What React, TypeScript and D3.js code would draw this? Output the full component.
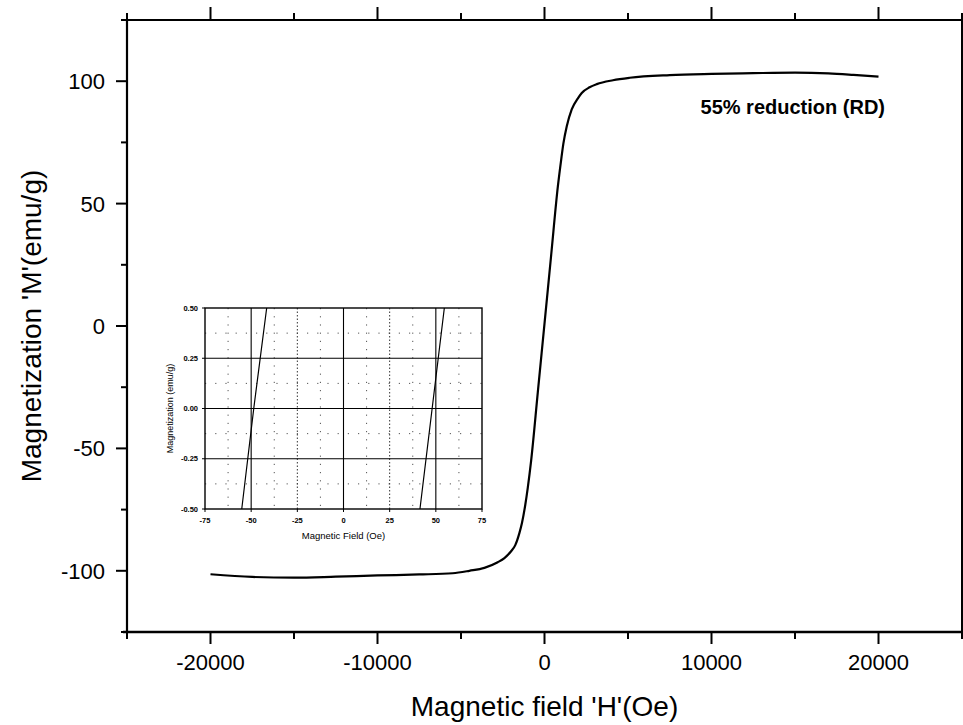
import React from 'react';
import * as d3 from 'd3';

// Main hysteresis curve
const fieldOe = [-20000, -17500, -15000, -12500, -10000, -7500, -5500, -4500, -3600, -2800, -2400, -2000, -1750, -1500, -1350, -1150, -1000, -800, -400, 0, 400, 800, 1000, 1130, 1330, 1630, 2000, 2230, 2700, 3130, 4100, 5100, 7500, 10000, 12500, 15000, 17000, 18500, 20000];
const magnetization = [-101.4, -102.5, -102.8, -102.4, -101.9, -101.5, -101.0, -100.0, -98.8, -96.5, -94.8, -92.0, -89.5, -84.5, -80.5, -73.0, -66.0, -55.0, -27.0, 1.0, 29.0, 57.0, 68.0, 74.5, 81.5, 88.5, 93.0, 95.2, 97.5, 98.8, 100.4, 101.4, 102.5, 103.0, 103.3, 103.5, 103.2, 102.6, 101.9];

const xTickValues = [-20000, -10000, 0, 10000, 20000];
const xMinorTickValues = [-25000, -15000, -5000, 5000, 15000, 25000];
const yTickValues = [-100, -50, 0, 50, 100];
const yMinorTickValues = [-125, -75, -25, 25, 75, 125];

// Inset (low-field zoom)
const insetDescField = [-55.1, -48.6, -41.6];
const insetAscField = [41.4, 48.0, 54.6];
const insetM = [-0.5, 0, 0.5];
const insetXTicks = [-75, -50, -25, 0, 25, 50, 75];
const insetYTicks = [-0.5, -0.25, 0, 0.25, 0.5];
const insetSolidX = [-50, 0, 50];
const insetDashedX = [-25, 25];
const insetDottedX = [-62.5, -37.5, -12.5, 12.5, 37.5, 62.5];
const insetSolidY = [-0.25, 0, 0.25];
const insetDottedY = [-0.375, -0.125, 0.125, 0.375];

const FONT = "'Liberation Sans', Arial, Helvetica, sans-serif";

export default function App() {
  const W = 963, H = 725;
  const left = 127, right = 962, top = 20, bottom = 632;
  const x = d3.scaleLinear().domain([-25000, 25000]).range([left, right]);
  const y = d3.scaleLinear().domain([-125, 125]).range([bottom, top]);

  const mainPts: [number, number][] = fieldOe.map((h, i) => [h, magnetization[i]]);
  const line = d3.line<[number, number]>().x(d => x(d[0])).y(d => y(d[1])).curve(d3.curveMonotoneX);

  // inset
  const iL = 205, iR = 482, iT = 308, iB = 509;
  const ix = d3.scaleLinear().domain([-75, 75]).range([iL, iR]);
  const iy = d3.scaleLinear().domain([-0.5, 0.5]).range([iB, iT]);
  const iline = d3.line<[number, number]>().x(d => ix(d[0])).y(d => iy(d[1]));
  const desc: [number, number][] = insetDescField.map((h, i) => [h, insetM[i]]);
  const asc: [number, number][] = insetAscField.map((h, i) => [h, insetM[i]]);

  return (
    <svg width={W} height={H} style={{ position: 'absolute', left: 0, top: 0, background: '#fff' }} fontFamily={FONT}>
      <rect x={0} y={0} width={W} height={H} fill="#fff" />
      {/* frame */}
      <line x1={left} x2={left} y1={top - 1} y2={bottom + 1} stroke="#000" strokeWidth={2.2} />
      <line x1={right} x2={right} y1={top - 1} y2={bottom + 1} stroke="#000" strokeWidth={2} />
      <line x1={left - 1} x2={right + 1} y1={top} y2={top} stroke="#000" strokeWidth={2.2} />
      <line x1={left - 4} x2={right + 1} y1={bottom} y2={bottom} stroke="#000" strokeWidth={2.6} />

      {/* x ticks bottom and top */}
      {xTickValues.map(v => (
        <g key={'xt' + v}>
          <line x1={x(v)} x2={x(v)} y1={bottom} y2={bottom + 12} stroke="#000" strokeWidth={2} />
          <line x1={x(v)} x2={x(v)} y1={top} y2={top - 13} stroke="#000" strokeWidth={2} />
          <text x={x(v)} y={bottom + 38} textAnchor="middle" fontSize={22}>{String(v)}</text>
        </g>
      ))}
      {xMinorTickValues.map(v => (
        <g key={'xm' + v}>
          <line x1={x(v)} x2={x(v)} y1={bottom} y2={bottom + 7} stroke="#000" strokeWidth={2} />
          <line x1={x(v)} x2={x(v)} y1={top} y2={top - 7} stroke="#000" strokeWidth={2} />
        </g>
      ))}
      {/* y ticks */}
      {yTickValues.map(v => (
        <g key={'yt' + v}>
          <line x1={left} x2={left - 11} y1={y(v)} y2={y(v)} stroke="#000" strokeWidth={2} />
          <text x={left - 22} y={y(v)} dy="0.36em" textAnchor="end" fontSize={22}>{String(v)}</text>
        </g>
      ))}
      {yMinorTickValues.map(v => (
        <line key={'ym' + v} x1={left} x2={left - 6} y1={y(v)} y2={y(v)} stroke="#000" strokeWidth={2} />
      ))}

      {/* titles */}
      <text x={(left + right) / 2} y={716} textAnchor="middle" fontSize={28}>Magnetic field 'H'(Oe)</text>
      <text transform={`translate(31, ${(top + bottom) / 2}) rotate(-90)`} dy="0.36em" textAnchor="middle" fontSize={28}>Magnetization 'M'(emu/g)</text>

      {/* curve */}
      <path d={line(mainPts) || ''} fill="none" stroke="#000" strokeWidth={2.2} />

      {/* annotation */}
      <text x={885} y={114} textAnchor="end" fontSize={20} fontWeight="bold">55% reduction (RD)</text>

      {/* inset */}
      <rect x={iL} y={iT} width={iR - iL} height={iB - iT} fill="#fff" />
      {insetDottedX.map(v => (
        <line key={'idx' + v} x1={ix(v)} x2={ix(v)} y1={iT} y2={iB} stroke="#555" strokeWidth={1} strokeDasharray="1.2,7" />
      ))}
      {insetDottedY.map(v => (
        <line key={'idy' + v} x1={iL} x2={iR} y1={iy(v)} y2={iy(v)} stroke="#555" strokeWidth={1} strokeDasharray="1.2,9" />
      ))}
      {insetDashedX.map(v => (
        <line key={'idsx' + v} x1={ix(v)} x2={ix(v)} y1={iT} y2={iB} stroke="#333" strokeWidth={1} strokeDasharray="1.5,2" />
      ))}
      {insetSolidX.map(v => (
        <line key={'isx' + v} x1={ix(v)} x2={ix(v)} y1={iT} y2={iB} stroke="#000" strokeWidth={1.1} />
      ))}
      {insetSolidY.map(v => (
        <line key={'isy' + v} x1={iL} x2={iR} y1={iy(v)} y2={iy(v)} stroke="#000" strokeWidth={1.1} />
      ))}
      <rect x={iL} y={iT} width={iR - iL} height={iB - iT} fill="none" stroke="#000" strokeWidth={1.4} />
      <path d={iline(desc) || ''} fill="none" stroke="#000" strokeWidth={1.2} />
      <path d={iline(asc) || ''} fill="none" stroke="#000" strokeWidth={1.2} />
      {insetXTicks.map(v => (
        <g key={'ixt' + v}>
          <line x1={ix(v)} x2={ix(v)} y1={iB} y2={iB + 3} stroke="#000" strokeWidth={1} />
          <text x={ix(v)} y={iB + 14} textAnchor="middle" fontSize={7.5} fontWeight="bold">{String(v)}</text>
        </g>
      ))}
      {insetYTicks.map(v => (
        <g key={'iyt' + v}>
          <line x1={iL} x2={iL - 3} y1={iy(v)} y2={iy(v)} stroke="#000" strokeWidth={1} />
          <text x={iL - 7} y={iy(v)} dy="0.35em" textAnchor="end" fontSize={7.5} fontWeight="bold">{v.toFixed(2)}</text>
        </g>
      ))}
      <text x={(iL + iR) / 2} y={iB + 30} textAnchor="middle" fontSize={9.5}>Magnetic Field (Oe)</text>
      <text transform={`translate(170, ${(iT + iB) / 2}) rotate(-90)`} dy="0.35em" textAnchor="middle" fontSize={9}>Magnetization (emu/g)</text>
    </svg>
  );
}
